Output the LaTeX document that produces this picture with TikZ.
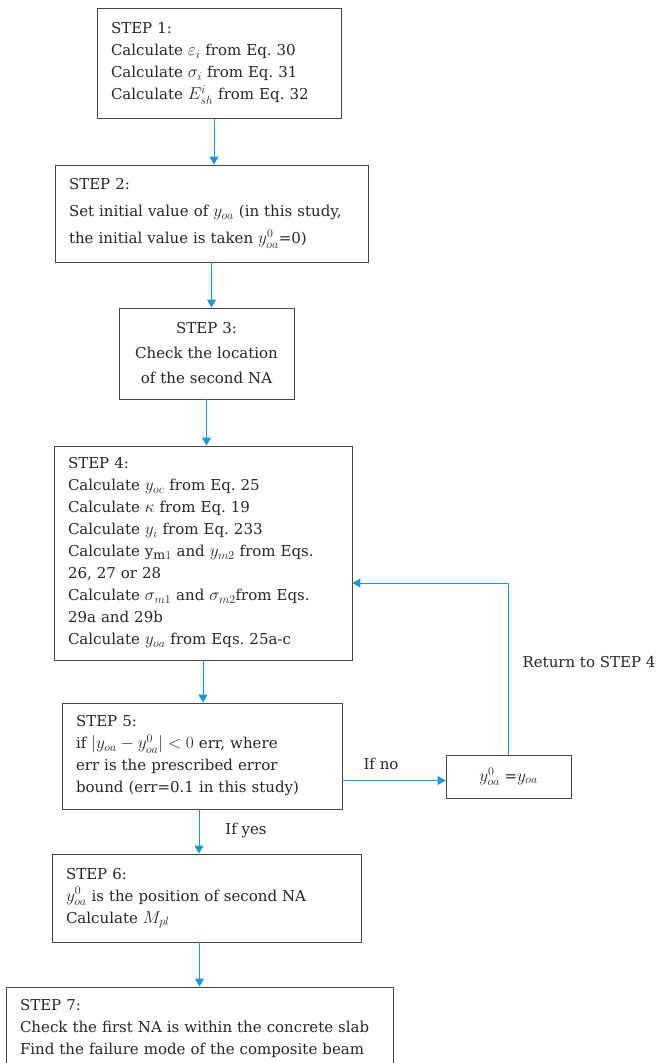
\documentclass[tikz,border=0pt]{standalone}
\usepackage{amsmath}
\usepackage{fontspec}
\setmainfont{DejaVu Serif}
\DeclareMathSizes{15}{17.5}{12.5}{10}
\usetikzlibrary{arrows.meta}
\definecolor{pfeilblau}{RGB}{30,150,210}
\definecolor{rahmen}{RGB}{70,70,70}
\tikzset{
  stepbox/.style={draw=rahmen, line width=0.9pt, align=left, inner xsep=14pt, inner ysep=0pt,
    text=black!85, font=\fontsize{15}{22}\selectfont\frenchspacing},
  pfeil/.style={draw=pfeilblau, line width=1pt, -{Triangle[width=9pt,length=8pt]}},
  marke/.style={text=black!85, font=\fontsize{15}{22}\selectfont},
}
\begin{document}
\begin{tikzpicture}[x=1pt,y=-1pt]
    \path[use as bounding box, clip] (0,0) rectangle (657,1063);
    % Kaesten:
    \node[stepbox, text width=216pt, minimum height=110pt] (b1) at (219,63.5)
      {STEP 1:\\ Calculate $\varepsilon_i$ from Eq. 30\\ Calculate $\sigma_i$ from Eq. 31\\ Calculate $E^{i}_{sh}$ from Eq. 32}; % Schritt 1
    \node[stepbox, text width=285pt, minimum height=97pt, font=\fontsize{15}{27}\selectfont\frenchspacing] (b2) at (211.5,213.5)
      {STEP 2:\\ Set initial value of $y_{oa}$ (in this study,\\ the initial value is taken $y^{0}_{oa}$=0)}; % Schritt 2
    \node[stepbox, text width=147pt, minimum height=91pt, align=center, font=\fontsize{15}{25}\selectfont] (b3) at (206.5,353.5)
      {STEP 3:\\ Check the location\\ of the second NA}; % Schritt 3
    \node[stepbox, text width=270pt, minimum height=214pt] (b4) at (203,553)
      {STEP 4:\\ Calculate $y_{oc}$ from Eq. 25\\ Calculate $\kappa$ from Eq. 19\\ Calculate $y_i$ from Eq. 233\\
       Calculate y$_{\mathrm{m}1}$ and $y_{m2}$ from Eqs.\\ 26, 27 or 28\\
       Calculate $\sigma_{m1}$ and $\sigma_{m2}$from Eqs.\\ 29a and 29b\\ Calculate $y_{oa}$ from Eqs. 25a-c}; % Schritt 4
    \node[stepbox, text width=252pt, minimum height=106pt] (b5) at (202,756)
      {STEP 5:\\ if $\lvert y_{oa}-y^{0}_{oa}\rvert<0$ err, where\\ err is the prescribed error\\ bound (err=0.1 in this study)}; % Schritt 5
    \node[stepbox, align=center, minimum width=125pt, minimum height=43pt, inner xsep=0pt] (upd) at (508.5,776.5)
      {$y^{0}_{oa}$ =$y_{oa}$}; % neuer Startwert
    \node[stepbox, text width=281pt, minimum height=88pt] (b6) at (206.5,898)
      {STEP 6:\\ $y^{0}_{oa}$ is the position of second NA\\ Calculate $M_{pl}$}; % Schritt 6
    \node[stepbox, text width=359pt, minimum height=82pt] (b7) at (199.5,1028)
      {STEP 7:\\ Check the first NA is within the concrete slab\\ Find the failure mode of the composite beam}; % Schritt 7
    % Beschriftungen:
    \node[marke] (nein) at (381,764) {If no};
    \node[marke] (ja) at (246,830) {If yes};
    \node[marke] (zurueck) at (589,662) {Return to STEP 4};
    % Pfeile:
    \draw[pfeil] ([xshift=-5pt]b1.south) -- ([xshift=-5pt]b1.south |- b2.north);
    \draw[pfeil] (b2.south) -- (b2.south |- b3.north);
    \draw[pfeil] (b3.south) -- (b3.south |- b4.north);
    \draw[pfeil] (b4.south) -- (b4.south |- b5.north);
    \draw[pfeil] ([xshift=-3pt]b5.south) -- ([xshift=-3pt]b5.south |- b6.north);
    \draw[pfeil] (b7.north |- b6.south) -- (b7.north);
    \draw[pfeil] ([yshift=-4pt]upd.west -| b5.east) -- ([yshift=-4pt]upd.west); % wenn nein
    \draw[pfeil] (upd.north) |- ([yshift=-30pt]b4.east); % zurueck zu Schritt 4
\end{tikzpicture}
\end{document}
